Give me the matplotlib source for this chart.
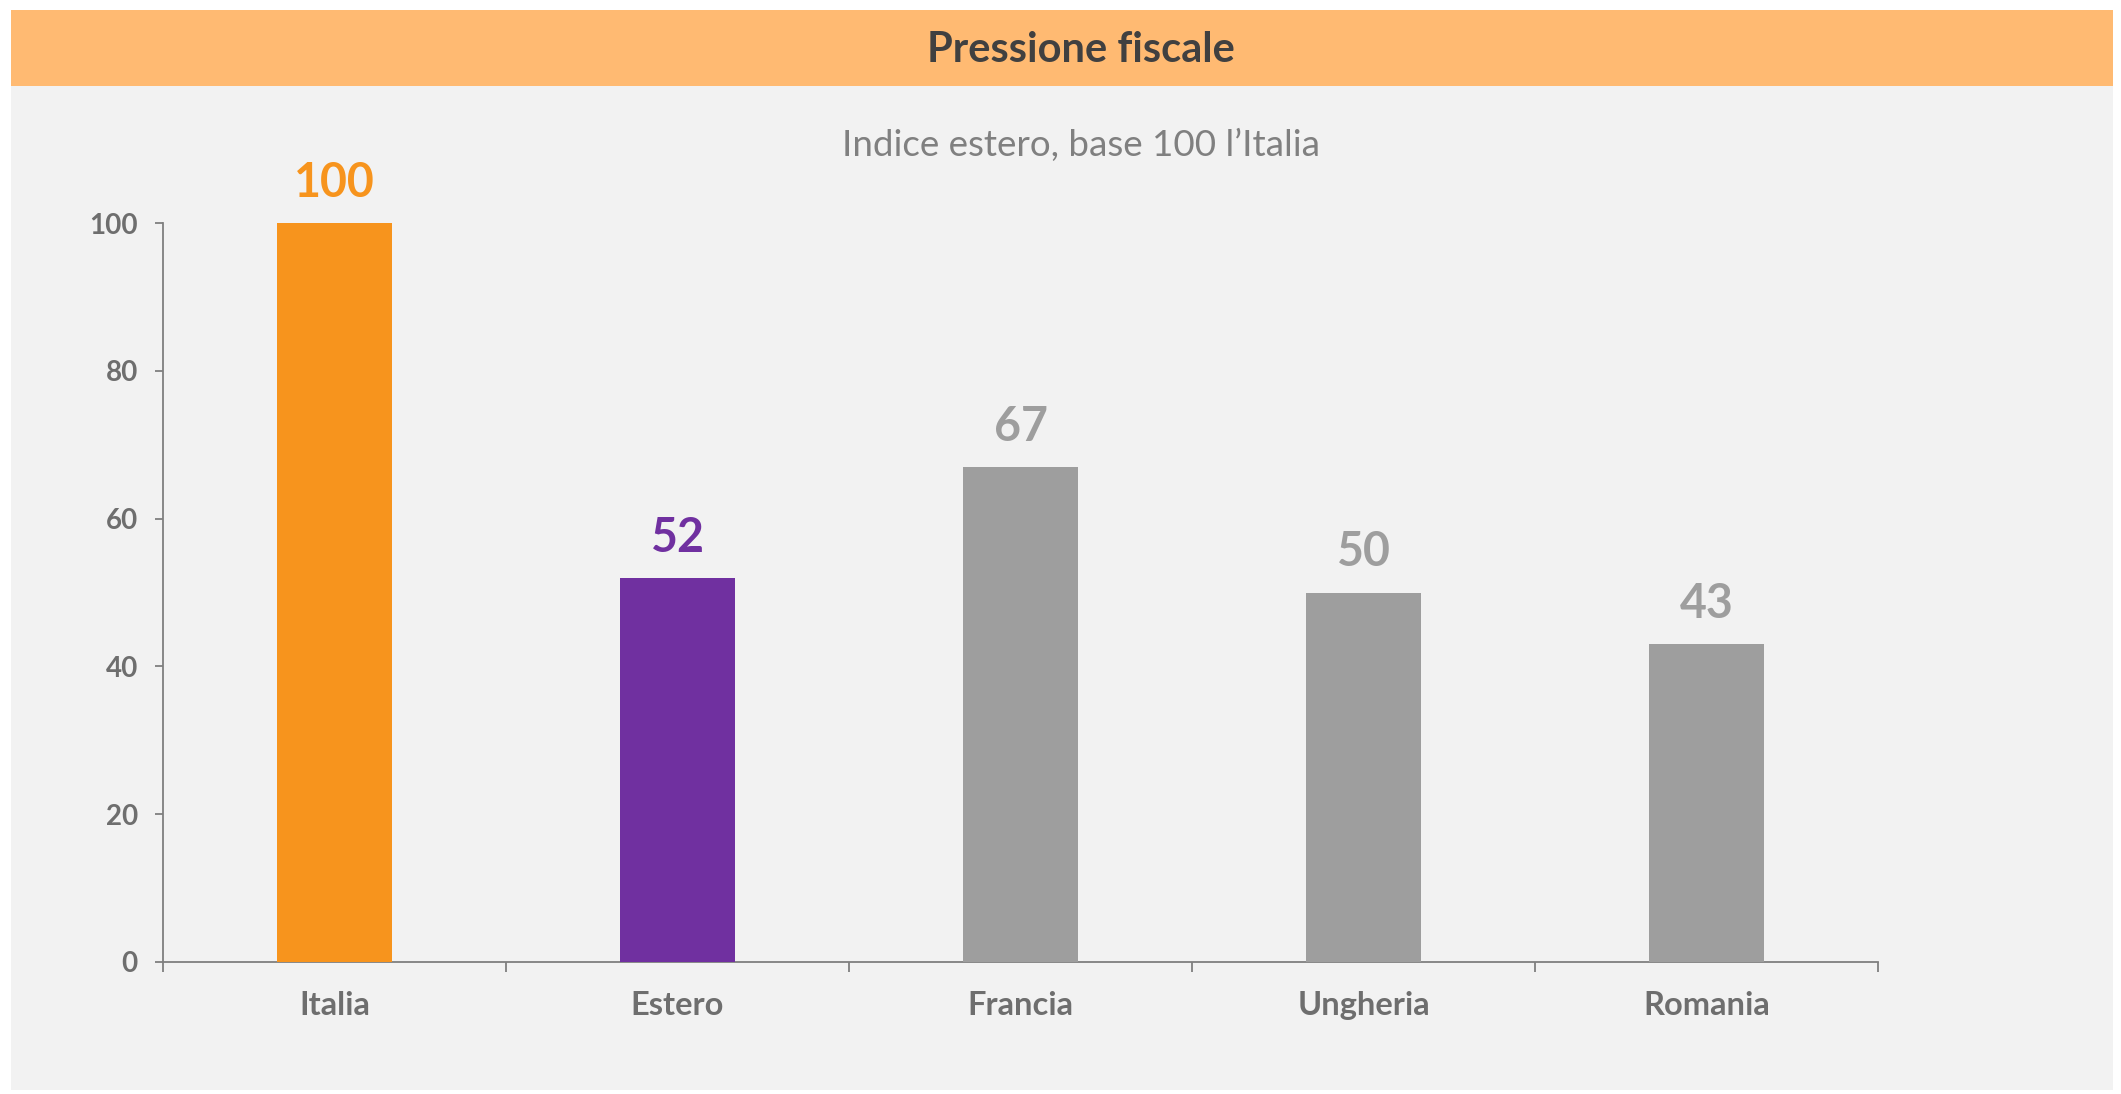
import matplotlib
matplotlib.use('Agg')
import matplotlib.pyplot as plt
import matplotlib.patches as mpatches
import numpy as np

plt.rcParams['font.family'] = ['Lato', 'DejaVu Sans']

# dati: indice estero, base 100 l'Italia
paesi = ['Italia', 'Estero', 'Francia', 'Ungheria', 'Romania']
indice = [100, 52, 67, 50, 43]
colori = ['#F7941D', '#7030A0', '#9E9E9E', '#9E9E9E', '#9E9E9E']
y_ticks = [0, 20, 40, 60, 80, 100]

W, H = 2121, 1094
fig = plt.figure(figsize=(W / 100, H / 100), dpi=100)
fig.patch.set_facecolor('white')

# sfondo grigio e banda arancione del titolo
fig.patches.append(mpatches.Rectangle((11 / W, 1 - 1090 / H), (2113 - 11) / W, (1090 - 86) / H,
                                      transform=fig.transFigure, facecolor='#F2F2F2',
                                      edgecolor='none', zorder=-10))
fig.patches.append(mpatches.Rectangle((11 / W, 1 - 86 / H), (2113 - 11) / W, (86 - 10) / H,
                                      transform=fig.transFigure, facecolor='#FFBA72',
                                      edgecolor='none', zorder=-10))
fig.text(1081 / W, 1 - 50 / H, 'Pressione fiscale', ha='center', va='center',
         fontsize=30, fontweight='bold', color='#404040')
fig.text(1081 / W, 1 - 145 / H, 'Indice estero, base 100 l\u2019Italia', ha='center',
         va='center', fontsize=26.5, fontweight='normal', color='#808080')

ax = fig.add_axes([163 / W, 1 - 962 / H, (1878 - 163) / W, (962 - 223) / H])
ax.set_facecolor('none')
ax.set_zorder(5)

x = np.arange(len(paesi))
bars = ax.bar(x, indice, width=0.335, color=colori, zorder=3)

for xi, v, c in zip(x, indice, colori):
    ax.annotate(f'{v}', (xi, v), xytext=(0, 13), textcoords='offset points',
                ha='center', va='bottom', fontsize=33.5, fontweight='bold', color=c)

ax.set_xlim(-0.5, len(paesi) - 0.5)
ax.set_ylim(0, 100)
ax.set_yticks(y_ticks)
ax.set_xticks(x)
ax.set_xticklabels(paesi)
ax.set_xticks(np.arange(len(paesi) + 1) - 0.5, minor=True)

for s in ['top', 'right']:
    ax.spines[s].set_visible(False)
for s in ['left', 'bottom']:
    ax.spines[s].set_color('#7F7F7F')
    ax.spines[s].set_linewidth(1.3)

ax.tick_params(axis='y', length=6, width=1.3, color='#7F7F7F', pad=12,
               labelsize=20, labelcolor='#6E6E6E')
ax.tick_params(axis='x', which='major', length=0, pad=21, labelsize=23.5,
               labelcolor='#6E6E6E')
ax.tick_params(axis='x', which='minor', length=7, width=1.3, color='#7F7F7F')
for lab in ax.get_xticklabels() + ax.get_yticklabels():
    lab.set_fontweight('bold')

plt.savefig('out.png', dpi=100)
plt.close()
